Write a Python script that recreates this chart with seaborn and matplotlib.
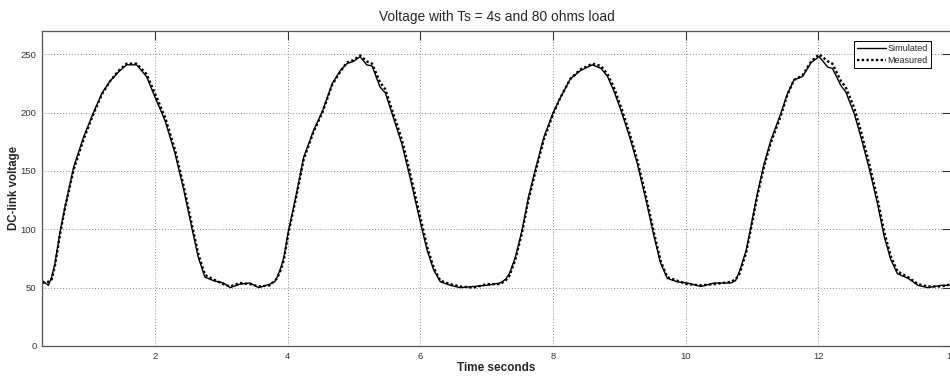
import matplotlib
matplotlib.use("Agg")
import matplotlib.pyplot as plt
import seaborn as sns
import pandas as pd

# ---- data ----
time_s = [0.30, 0.39, 0.44, 0.49, 0.57, 0.64, 0.77, 0.92, 1.07, 1.20, 1.32, 1.45, 1.57, 1.72, 1.87,
          2.00, 2.15, 2.30, 2.43, 2.55, 2.65, 2.75, 2.88, 3.03, 3.13, 3.28, 3.43, 3.56, 3.73, 3.80,
          3.84, 3.90, 3.94, 4.01, 4.12, 4.24, 4.39, 4.52, 4.67, 4.79, 4.89, 4.99, 5.09, 5.19, 5.27,
          5.39, 5.47, 5.59, 5.72, 5.84, 5.99, 6.10, 6.20, 6.30, 6.45, 6.60, 6.80, 7.00, 7.20, 7.28,
          7.34, 7.43, 7.53, 7.63, 7.74, 7.86, 8.00, 8.11, 8.26, 8.41, 8.59, 8.72, 8.82, 8.92, 9.04,
          9.17, 9.27, 9.40, 9.52, 9.62, 9.72, 9.87, 10.02, 10.23, 10.43, 10.68, 10.75, 10.81, 10.91,
          10.98, 11.08, 11.18, 11.28, 11.43, 11.53, 11.63, 11.76, 11.89, 12.01, 12.14, 12.21, 12.34,
          12.41, 12.54, 12.64, 12.77, 12.89, 12.99, 13.09, 13.19, 13.35, 13.50, 13.65, 13.85, 14.0]

simulated = [56, 52, 59, 71, 99, 119, 153, 179, 200, 217, 227, 235, 241, 241, 231,
             213, 193, 165, 134, 102, 76, 59, 56, 54, 50, 53, 54, 50, 53, 55,
             59, 68, 76, 99, 128, 162, 185, 201, 225, 236, 242, 244, 248, 241, 240,
             222, 217, 196, 173, 145, 108, 82, 65, 55, 52, 50, 51, 52, 54, 57,
             62, 76, 99, 128, 153, 179, 200, 213, 229, 236, 241, 238, 231, 218, 199,
             176, 156, 125, 94, 71, 58, 55, 54, 51, 54, 54, 56, 64, 82,
             102, 131, 156, 176, 199, 216, 228, 231, 243, 248, 239, 238, 223,
             218, 199, 179, 151, 122, 94, 74, 62, 58, 52, 50, 52, 52]

measured = [54, 55, 57, 69, 97, 118, 151, 177, 199, 216, 227, 236, 242, 242, 233,
            216, 196, 168, 137, 105, 79, 61, 57, 53, 51, 54, 53, 51, 52, 56,
            58, 66, 74, 97, 126, 160, 184, 200, 224, 235, 243, 245, 249, 244, 242,
            226, 220, 199, 177, 149, 112, 85, 67, 56, 53, 51, 50, 53, 53, 56,
            60, 74, 97, 126, 151, 177, 199, 213, 229, 237, 242, 240, 233, 221, 202,
            179, 159, 128, 97, 73, 59, 56, 53, 52, 53, 55, 57, 62, 80,
            100, 129, 154, 174, 197, 215, 228, 232, 244, 250, 244, 242, 227,
            222, 204, 184, 155, 126, 98, 77, 64, 59, 53, 51, 51, 53]

x_ticks = [2, 4, 6, 8, 10, 12, 14]
y_ticks = [0, 50, 100, 150, 200, 250]

sns.set_style("white")
plt.rcParams['font.family'] = ['Liberation Sans', 'DejaVu Sans']

df_sim = pd.DataFrame({"t": time_s, "v": simulated})
df_meas = pd.DataFrame({"t": time_s, "v": measured})

fig = plt.figure(figsize=(9.5, 3.78), dpi=100)
ax = fig.add_axes([0.0442, 0.0847, 0.957, 0.8333])

sns.lineplot(data=df_meas, x="t", y="v", ax=ax, color="black", linewidth=1.7,
             linestyle=(0, (1, 1)), label="Measured", sort=False)
sns.lineplot(data=df_sim, x="t", y="v", ax=ax, color="black", linewidth=1.0,
             label="Simulated", sort=False)

ax.set_xlim(0.294, 14.0)
ax.set_ylim(0, 270)
ax.set_xticks(x_ticks)
ax.set_yticks(y_ticks)
ax.grid(True, color="#888888", linestyle=(0, (1, 2)), linewidth=0.7)
ax.tick_params(direction="in", top=True, right=True, length=6.5, width=0.8,
               labelsize=6.8, colors="#333333", pad=4)
for s in ax.spines.values():
    s.set_color("#555555")
    s.set_linewidth(0.9)

ax.set_title("Voltage with Ts = 4s and 80 ohms load", fontsize=9.9, pad=7)
ax.set_xlabel("Time seconds", fontsize=8.5, fontweight="bold", labelpad=1)
ax.set_ylabel("DC-link voltage", fontsize=8.3, fontweight="bold")
ax.yaxis.set_label_coords(-0.024, 0.5)

handles, labels = ax.get_legend_handles_labels()
order = [labels.index("Simulated"), labels.index("Measured")]
leg = ax.legend([handles[i] for i in order], [labels[i] for i in order],
                loc="upper right", bbox_to_anchor=(0.978, 0.968), fontsize=6.5,
                frameon=True, fancybox=False, framealpha=1, edgecolor="black",
                handlelength=3.2, handletextpad=0.2, borderpad=0.35, labelspacing=0.3,
                borderaxespad=0)
leg.get_frame().set_linewidth(0.7)

fig.savefig("out.png", dpi=100)
